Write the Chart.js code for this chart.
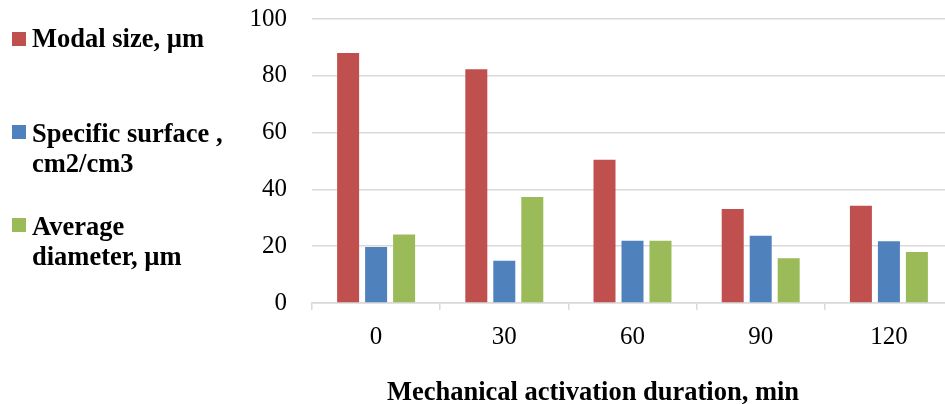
<!DOCTYPE html>
<html>
<head>
<meta charset="utf-8">
<script src="https://cdn.jsdelivr.net/npm/chart.js@4"></script>
<style>
  html, body { margin: 0; padding: 0; background: #fff; overflow: hidden; }
  #wrap { position: relative; width: 945px; height: 404px; overflow: hidden; }
  #pvChart { position: absolute; left: 0; top: 0; }
  .leg { position: absolute; left: 32px; font: bold 26.5px "Liberation Serif", "Times New Roman", serif; line-height: 30px; color: #000; white-space: nowrap; }
  .sq { position: absolute; left: 12px; width: 14px; height: 14px; }
</style>
</head>
<body>
<div id="wrap">
  <canvas id="pvChart" width="960" height="404"></canvas>
  <div class="sq" style="top:32px;background:#C0504D"></div>
  <div class="leg" style="top:23px">Modal size, µm</div>
  <div class="sq" style="top:125px;background:#4F81BD"></div>
  <div class="leg" style="top:118px">Specific surface ,<br>cm2/cm3</div>
  <div class="sq" style="top:218px;background:#9BBB59"></div>
  <div class="leg" style="top:211px">Average<br>diameter, µm</div>
</div>
<script>
const categories = ["0", "30", "60", "90", "120"];
const modalSize = [88, 82.3, 50.4, 33.1, 34.2];
const specificSurface = [19.7, 14.9, 21.9, 23.7, 21.7];
const averageDiameter = [24.1, 37.3, 21.9, 15.8, 18.0];
const yTicks = [0, 20, 40, 60, 80, 100];
const xTitle = "Mechanical activation duration, min";

const serif = '"Liberation Serif", "Times New Roman", serif';

// x axis title, centred a bit left of the plot like the original
const xTitlePlugin = {
  id: "xTitle",
  afterDraw(chart) {
    const c = chart.ctx;
    c.save();
    c.font = "bold 26.5px " + serif;
    c.fillStyle = "#000";
    c.textAlign = "center";
    c.textBaseline = "alphabetic";
    c.fillText(xTitle, 593, 400);
    c.restore();
  }
};

new Chart(document.getElementById("pvChart"), {
  type: "bar",
  data: {
    labels: categories,
    datasets: [
      { label: "Modal size, µm", data: modalSize, backgroundColor: "#C0504D" },
      { label: "Specific surface , cm2/cm3", data: specificSurface, backgroundColor: "#4F81BD" },
      { label: "Average diameter, µm", data: averageDiameter, backgroundColor: "#9BBB59" }
    ]
  },
  options: {
    responsive: false,
    animation: false,
    categoryPercentage: 0.655,
    barPercentage: 0.786,
    layout: { padding: { left: 0, right: 7, top: 19, bottom: 0 } },
    plugins: {
      legend: { display: false },
      tooltip: { enabled: false }
    },
    scales: {
      x: {
        grid: { offset: true, drawOnChartArea: false, drawTicks: true, tickLength: 7, color: "#D9D9D9", lineWidth: 1.5 },
        border: { color: "#D9D9D9", width: 1.5 },
        ticks: { color: "#000", font: { family: serif, size: 25 }, padding: 12 },
        afterFit(scale) { scale.height = 101; }
      },
      y: {
        min: 0,
        max: 100,
        afterBuildTicks(scale) { scale.ticks = yTicks.map(v => ({ value: v })); },
        grid: { color: "#D9D9D9", lineWidth: 1.5, drawTicks: false },
        border: { display: false },
        ticks: { color: "#000", font: { family: serif, size: 25 }, padding: 25 },
        afterFit(scale) {
          scale.width = 312;
          scale.paddingTop = 0;
          scale.paddingBottom = 0;
        }
      }
    }
  },
  plugins: [xTitlePlugin]
});
</script>
</body>
</html>
